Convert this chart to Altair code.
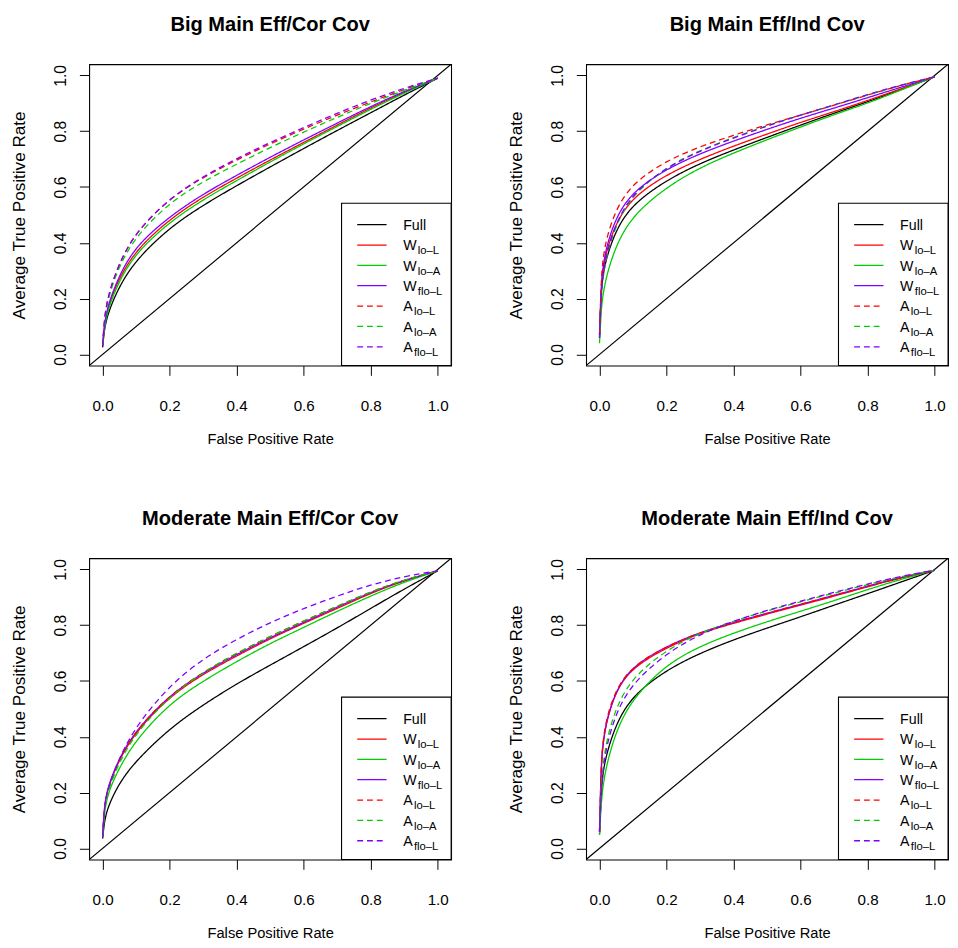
import altair as alt
import pandas as pd

# ---------------- data ----------------
FPR = [0, 0.005, 0.01, 0.02, 0.05, 0.1, 0.2, 0.3, 0.4, 0.5, 0.6, 0.7, 0.8, 0.9, 1.0]

SERIES = ["Full", "W lo-L", "W lo-A", "W flo-L", "A lo-L", "A lo-A", "A flo-L"]
LEGEND_MAIN = ["Full", "W", "W", "W", "A", "A", "A"]
LEGEND_SUB = ["", "lo\u2013L", "lo\u2013A", "flo\u2013L", "lo\u2013L", "lo\u2013A", "flo\u2013L"]
SERIES_COLORS = ["#000000", "#FF0000", "#00CD00", "#7F00FF", "#FF0000", "#00CD00", "#7F00FF"]
SERIES_STYLE = ["solid", "solid", "solid", "solid", "dashed", "dashed", "dashed"]

TITLES = ["Big Main Eff/Cor Cov", "Big Main Eff/Ind Cov",
          "Moderate Main Eff/Cor Cov", "Moderate Main Eff/Ind Cov"]

big_cor = {
    "Full":    [.025, .085, .115, .16, .245, .34, .455, .535, .605, .672, .738, .803, .866, .93, .99],
    "W lo-L":  [.03, .10, .135, .185, .275, .375, .485, .565, .632, .697, .76, .822, .884, .94, .99],
    "W lo-A":  [.03, .09, .125, .175, .265, .365, .475, .555, .623, .69, .755, .817, .879, .937, .99],
    "W flo-L": [.03, .10, .14, .19, .285, .39, .495, .575, .642, .707, .769, .829, .889, .943, .99],
    "A lo-L":  [.03, .12, .165, .225, .33, .44, .56, .635, .697, .755, .808, .858, .905, .95, .99],
    "A lo-A":  [.03, .11, .155, .215, .32, .425, .545, .62, .682, .742, .797, .85, .90, .947, .99],
    "A flo-L": [.03, .12, .165, .225, .33, .44, .56, .638, .702, .76, .813, .865, .912, .955, .99],
}
big_ind = {
    "Full":    [.06, .22, .28, .345, .45, .54, .625, .685, .733, .778, .822, .865, .905, .95, .995],
    "W lo-L":  [.07, .24, .30, .37, .475, .565, .645, .70, .747, .79, .832, .87, .91, .952, .995],
    "W lo-A":  [.04, .16, .21, .28, .395, .50, .60, .67, .722, .77, .815, .86, .90, .948, .995],
    "W flo-L": [.07, .25, .31, .385, .495, .585, .665, .72, .765, .807, .847, .883, .92, .958, .995],
    "A lo-L":  [.07, .27, .34, .415, .525, .615, .695, .745, .786, .823, .858, .893, .93, .965, .995],
    "A lo-A":  [.06, .21, .27, .35, .47, .575, .672, .732, .778, .82, .858, .894, .93, .965, .995],
    "A flo-L": [.06, .22, .28, .36, .475, .58, .67, .73, .776, .819, .858, .894, .932, .966, .995],
}
mod_cor = {
    "Full":    [.035, .09, .12, .16, .235, .315, .43, .515, .59, .657, .723, .79, .86, .93, .995],
    "W lo-L":  [.04, .14, .18, .23, .32, .42, .545, .625, .69, .752, .807, .86, .915, .96, .995],
    "W lo-A":  [.04, .12, .16, .21, .29, .39, .52, .60, .67, .735, .792, .85, .905, .955, .995],
    "W flo-L": [.04, .145, .185, .235, .325, .425, .55, .63, .695, .756, .81, .865, .918, .962, .995],
    "A lo-L":  [.04, .14, .18, .23, .32, .425, .55, .632, .70, .76, .815, .868, .92, .963, .995],
    "A lo-A":  [.04, .13, .17, .22, .31, .415, .545, .632, .70, .76, .815, .868, .92, .963, .995],
    "A flo-L": [.04, .14, .18, .23, .325, .44, .585, .68, .75, .81, .86, .905, .945, .975, .995],
}
mod_ind = {
    "Full":    [.05, .2, .27, .335, .45, .55, .64, .70, .748, .79, .83, .872, .913, .955, .997],
    "W lo-L":  [.06, .3, .37, .455, .57, .65, .72, .772, .807, .84, .872, .904, .938, .97, .997],
    "W lo-A":  [.05, .16, .22, .295, .425, .54, .66, .725, .772, .813, .85, .888, .928, .965, .997],
    "W flo-L": [.06, .3, .37, .455, .57, .655, .725, .775, .81, .843, .875, .907, .94, .972, .997],
    "A lo-L":  [.06, .31, .38, .465, .575, .655, .725, .774, .81, .843, .875, .907, .94, .972, .997],
    "A lo-A":  [.06, .22, .29, .385, .51, .615, .712, .773, .815, .852, .884, .915, .946, .975, .997],
    "A flo-L": [.06, .2, .27, .365, .49, .595, .70, .768, .815, .854, .886, .918, .948, .976, .997],
}
PANEL_DATA = [big_cor, big_ind, mod_cor, mod_ind]

AXIS_TICKS = [0, 0.2, 0.4, 0.6, 0.8, 1.0]
DOMAIN = [-0.04, 1.04]

# ---------------- styling ----------------
FONT = "Liberation Sans"
W, H = 370, 308
LEG_W, LEG_H = 112, 166
ROW_GAP = 20.8

x_scale = alt.Scale(domain=DOMAIN, nice=False, zero=False)
y_scale = alt.Scale(domain=DOMAIN, nice=False, zero=False)

legend_df = pd.DataFrame({
    "series": SERIES, "main": LEGEND_MAIN, "sub": LEGEND_SUB,
    "color": SERIES_COLORS, "style": SERIES_STYLE, "idx": list(range(len(SERIES))),
})
dash_scale = alt.Scale(domain=["solid", "dashed"], range=[[1, 0], [6, 4]])


def panel(title, curves):
    rows = []
    for s, style in zip(SERIES, SERIES_STYLE):
        for xv, yv in zip(FPR, curves[s]):
            rows.append({"series": s, "style": style, "fpr": xv, "tpr": yv})
    df = pd.DataFrame(rows)

    xaxis = alt.Axis(values=AXIS_TICKS, format=".1f", title="False Positive Rate",
                     grid=False, domain=False, tickSize=10, tickColor="black",
                     labelPadding=24, labelFontSize=15.5, labelFont=FONT, labelColor="black",
                     titleFont=FONT, titleFontSize=15, titleFontWeight="normal",
                     titleColor="black", titleY=75, titleBaseline="middle")
    yaxis = alt.Axis(values=AXIS_TICKS, format=".1f", title="Average True Positive Rate",
                     grid=False, domain=False, tickSize=10, tickColor="black",
                     labelAngle=270, labelAlign="center", labelBaseline="middle",
                     labelPadding=19, labelFontSize=16, labelFont=FONT, labelColor="black",
                     titleFont=FONT, titleFontSize=17.5, titleFontWeight="normal",
                     titleColor="black", titleX=-71, titleY=H / 2, titleAngle=270,
                     titleAlign="center", titleBaseline="middle")

    diag_df = pd.DataFrame({"fpr": DOMAIN, "tpr": DOMAIN})
    diag = alt.Chart(diag_df).mark_line(color="black", strokeWidth=1.2, clip=True).encode(
        x=alt.X("fpr:Q", scale=x_scale, axis=xaxis),
        y=alt.Y("tpr:Q", scale=y_scale, axis=yaxis),
    )
    lines = alt.Chart(df).mark_line(strokeWidth=1.3, clip=True, interpolate="basis").encode(
        x=alt.X("fpr:Q", scale=x_scale, axis=xaxis),
        y=alt.Y("tpr:Q", scale=y_scale, axis=yaxis),
        color=alt.Color("series:N", scale=alt.Scale(domain=SERIES, range=SERIES_COLORS), legend=None),
        strokeDash=alt.StrokeDash("style:N", scale=dash_scale, legend=None),
        detail="series:N",
    )

    # manual legend (bottom-right, inside the plot box)
    box = alt.Chart(pd.DataFrame({"k": [0]})).mark_rect(
        fill="white", stroke="black", strokeWidth=1.1
    ).encode(x=alt.value(W - LEG_W), x2=alt.value(W), y=alt.value(H - LEG_H), y2=alt.value(H))

    leg_base = alt.Chart(legend_df).transform_calculate(
        ly=f"{H - LEG_H + 22} + datum.idx * {ROW_GAP}"
    )
    leg_lines = leg_base.mark_rule(strokeWidth=1.3).encode(
        x=alt.value(W - LEG_W + 16), x2=alt.value(W - LEG_W + 46),
        y=alt.Y("ly:Q", scale=None),
        color=alt.Color("color:N", scale=None),
        strokeDash=alt.StrokeDash("style:N", scale=dash_scale, legend=None),
    )
    leg_main = leg_base.transform_calculate(ty="datum.ly + 5.5").mark_text(
        align="left", baseline="alphabetic", fontSize=14.5, font=FONT, color="black"
    ).encode(x=alt.value(W - LEG_W + 63), y=alt.Y("ty:Q", scale=None), text="main:N")
    leg_sub = leg_base.transform_calculate(
        ty="datum.ly + 9.5",
        tx=f"datum.main == 'W' ? {W - LEG_W + 78} : {W - LEG_W + 74}",
    ).mark_text(
        align="left", baseline="alphabetic", fontSize=11.5, font=FONT, color="black"
    ).encode(x=alt.X("tx:Q", scale=None), y=alt.Y("ty:Q", scale=None), text="sub:N")

    return alt.layer(diag, lines, box, leg_lines, leg_main, leg_sub).properties(
        width=W, height=H,
        title=alt.TitleParams(title, fontSize=20.5, fontWeight="bold", font=FONT,
                              anchor="middle", baseline="bottom", offset=10, color="black"),
    )


panels = [panel(t, d) for t, d in zip(TITLES, PANEL_DATA)]

chart = alt.concat(*panels, columns=2, spacing={"row": 197, "column": 138},
                   bounds="flush").properties(
    padding={"left": 2, "top": -5, "right": 0, "bottom": 0},
    background="white",
).configure_view(stroke="black", strokeWidth=1.1)

chart.save("out.html", embed_options={"renderer": "svg", "actions": False})
